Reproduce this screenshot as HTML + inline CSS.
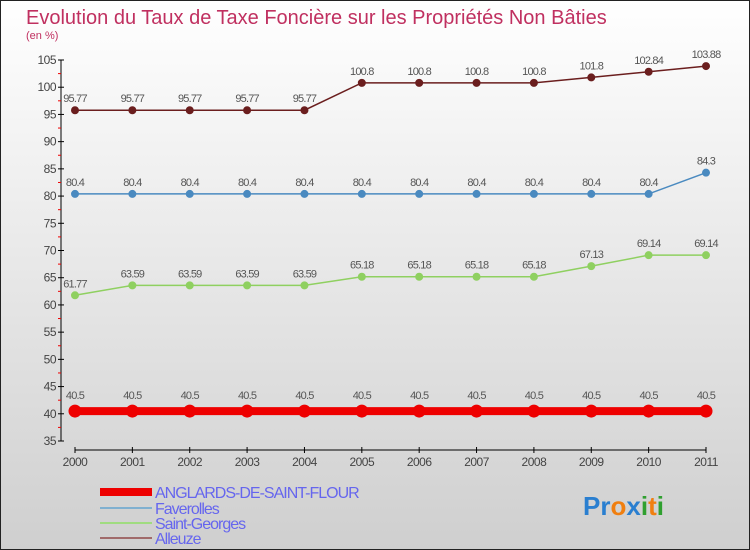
<!DOCTYPE html>
<html><head><meta charset="utf-8"><style>
body{margin:0}
#c{width:750px;height:550px;position:relative;overflow:hidden}
</style></head><body>
<div id="c">
<svg width="750" height="550" xmlns="http://www.w3.org/2000/svg" font-family="'Liberation Sans', sans-serif">
<defs><linearGradient id="bg" x1="0" y1="0" x2="0" y2="1"><stop offset="0" stop-color="#ffffff"/><stop offset="1" stop-color="#cfcfcf"/></linearGradient></defs>
<rect x="0.5" y="0.5" width="749" height="549" fill="url(#bg)" stroke="#222"/>
<text x="26" y="24" font-size="20" fill="#c03060">Evolution du Taux de Taxe Foncière sur les Propriétés Non Bâties</text>
<text x="26" y="39" font-size="11" fill="#c03060">(en %)</text>
<g id="axes"></g>
<g id="series"></g>
<g id="legend"></g>
<text x="583" y="515" font-size="26" font-weight="bold"><tspan fill="#2a7fd0">Pr</tspan><tspan fill="#f07f10">o</tspan><tspan fill="#2a7fd0">x</tspan><tspan fill="#30a030">i</tspan><tspan fill="#f07f10">t</tspan><tspan fill="#30a030">i</tspan></text>
</svg>
</div>
<script>
const years=[2000,2001,2002,2003,2004,2005,2006,2007,2008,2009,2010,2011];
const anglards=[40.5,40.5,40.5,40.5,40.5,40.5,40.5,40.5,40.5,40.5,40.5,40.5];
const faverolles=[80.4,80.4,80.4,80.4,80.4,80.4,80.4,80.4,80.4,80.4,80.4,84.3];
const saintGeorges=[61.77,63.59,63.59,63.59,63.59,65.18,65.18,65.18,65.18,67.13,69.14,69.14];
const alleuze=[95.77,95.77,95.77,95.77,95.77,100.8,100.8,100.8,100.8,101.8,102.84,103.88];
const yTicks=[35,40,45,50,55,60,65,70,75,80,85,90,95,100,105];
const NS="http://www.w3.org/2000/svg";
function X(i){return 75+i*(706-75)/(years.length-1);}
function Y(v){return 441-(v-35)*(381/70);}
function mk(tag,attrs,parent,txt){const e=document.createElementNS(NS,tag);for(const k in attrs)e.setAttribute(k,attrs[k]);if(txt!==undefined)e.textContent=txt;parent.appendChild(e);return e;}
const ax=document.getElementById('axes');
let e=mk('line',{x1:61,y1:Y(105),x2:61,y2:Y(35),stroke:'#000'},ax);


yTicks.forEach(t=>{
  mk('line',{x1:58,x2:64,y1:Y(t),y2:Y(t),stroke:'#000'},ax);
  if(t<105){mk('line',{x1:58,x2:61,y1:Y(t+2.5),y2:Y(t+2.5),stroke:'#e00'},ax);}
  const l=mk('text',{x:56,y:Y(t)+4,'text-anchor':'end','font-size':12,fill:'#444','letter-spacing':'-0.5'},ax,String(t));
  
  
});
e=mk('line',{x1:X(0),y1:450,x2:X(11),y2:450,stroke:'#000'},ax);


years.forEach((yr,i)=>{
  mk('line',{x1:X(i),x2:X(i),y1:447,y2:453,stroke:'#000'},ax);
  const l=mk('text',{x:X(i),y:466,'text-anchor':'middle','font-size':12,fill:'#444','letter-spacing':'-0.5'},ax,String(yr));
  
  
});
const sg=document.getElementById('series');
function draw(vals,color,fill,w,r,name,labelOff){
  const g=mk('g',{},sg);
  
  
  mk('polyline',{points:vals.map((v,i)=>X(i)+','+Y(v)).join(' '),fill:'none',stroke:color,'stroke-width':w},g);
  vals.forEach((v,i)=>{
    const c=mk('circle',{cx:X(i),cy:Y(v),r:r,fill:fill,stroke:color,'stroke-width':1},g);
    
    
    const t=mk('text',{x:X(i),y:Y(v)-labelOff,'text-anchor':'middle','font-size':11,fill:'#555','letter-spacing':'-0.8'},g,String(v));
    
    
  });
}
draw(alleuze,'#6b1e1e','#6b1e1e',1.5,3.5,'alleuze',8);
draw(faverolles,'#4a8ac0','#4a8ac0',1.5,3.5,'faverolles',8);
draw(saintGeorges,'#8fd060','#8fd060',1.5,3.5,'saint-georges',8);
draw(anglards,'#ee0000','#ee0000',8,6,'anglards',12);
const lg=document.getElementById('legend');
const items=[['ANGLARDS-DE-SAINT-FLOUR','#ee0000',8,492],['Faverolles','#80b0d0',2,508],['Saint-Georges','#a0dc80',2,523],['Alleuze','#a06a6a',2,538]];
items.forEach(it=>{
  const g=mk('g',{},lg);
  
  
  mk('line',{x1:100,x2:152,y1:it[3],y2:it[3],stroke:it[1],'stroke-width':it[2]},g);
  mk('text',{x:155,y:it[3]+6,'font-size':16,fill:'#6666ee','letter-spacing':'-1'},g,it[0]);
});
</script>
</body></html>
